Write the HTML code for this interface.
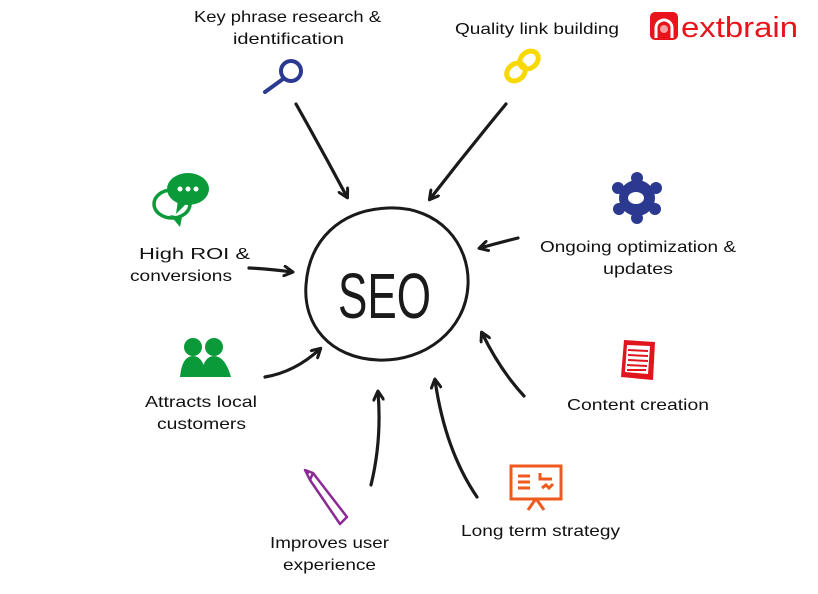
<!DOCTYPE html>
<html><head><meta charset="utf-8"><style>
html,body{margin:0;padding:0;background:#fff;}
svg{display:block;}
text{font-family:"Liberation Sans",sans-serif;font-size:16px;fill:#111;}
</style></head><body>
<svg width="818" height="594" viewBox="0 0 818 594" xmlns="http://www.w3.org/2000/svg">
<defs>
<marker id="ah" markerWidth="12" markerHeight="12" refX="9" refY="6" orient="auto" markerUnits="userSpaceOnUse">
<path d="M1,1 L10,6 L1,11" fill="none" stroke="#1a1a1a" stroke-width="3" stroke-linecap="round" stroke-linejoin="round"/>
</marker>
</defs>
<!-- Logo -->
<rect x="650" y="12" width="28" height="28" rx="5" fill="#e8131b"/>
<path d="M656,38 V28 a8,8 0 0 1 16,0 V38" fill="none" stroke="#fff" stroke-width="3"/>
<circle cx="664" cy="29" r="4" fill="#f7a0a0"/>
<text x="681" y="37" textLength="117" lengthAdjust="spacingAndGlyphs" style="font-size:29px;fill:#e8131b;">extbrain</text>

<!-- SEO circle -->
<path d="M388,208 C440,206 470,245 468,285 C466,330 425,362 378,360 C330,358 303,325 306,285 C309,240 340,210 388,208 Z" fill="none" stroke="#1a1a1a" stroke-width="3"/>
<text x="338" y="318" textLength="93" lengthAdjust="spacingAndGlyphs" style="font-size:64px;fill:#1a1a1a;">SEO</text>

<g fill="none" stroke="#1a1a1a" stroke-width="3.2" stroke-linecap="round">
<path d="M296,104 Q322,150 347,197" marker-end="url(#ah)"/>
<path d="M506,104 Q468,150 430,199" marker-end="url(#ah)"/>
<path d="M518,238 Q498,243 480,248" marker-end="url(#ah)"/>
<path d="M249,268 Q270,269 292,272" marker-end="url(#ah)"/>
<path d="M265,377 Q295,372 320,349" marker-end="url(#ah)"/>
<path d="M371,485 Q382,440 378,392" marker-end="url(#ah)"/>
<path d="M477,497 Q445,450 435,380" marker-end="url(#ah)"/>
<path d="M524,396 Q500,370 482,333" marker-end="url(#ah)"/>
</g>

<!-- Icons -->
<g stroke="#2b3990" stroke-width="4" fill="none" stroke-linecap="round">
<circle cx="291" cy="71" r="10"/>
<line x1="283" y1="79" x2="265" y2="92"/>
</g>
<g stroke="#f7d800" stroke-width="5" fill="none">
<ellipse cx="516" cy="72" rx="10" ry="8" transform="rotate(-40 516 72)"/>
<ellipse cx="529" cy="60" rx="10" ry="8" transform="rotate(-40 529 60)"/>
</g>
<g fill="#2b3990">
<circle cx="637" cy="198" r="18"/>
<circle cx="637" cy="178" r="6"/><circle cx="637" cy="218" r="6"/>
<circle cx="618" cy="188" r="6"/><circle cx="656" cy="188" r="6"/>
<circle cx="619" cy="209" r="6"/><circle cx="655" cy="209" r="6"/>
<ellipse cx="636" cy="198" rx="8" ry="6" fill="#fff"/>
</g>
<g>
<ellipse cx="172" cy="204" rx="18" ry="14" fill="none" stroke="#0a9a3a" stroke-width="3.5"/>
<path d="M170,215 l10,12 l2,-10 z" fill="#0a9a3a"/>
<ellipse cx="188" cy="189" rx="21" ry="16" fill="#0a9a3a"/>
<path d="M178,200 l-2,14 l10,-10 z" fill="#0a9a3a"/>
<circle cx="180" cy="189" r="2.5" fill="#fff"/><circle cx="188" cy="189" r="2.5" fill="#fff"/><circle cx="196" cy="189" r="2.5" fill="#fff"/>
</g>
<g fill="#0a9a3a">
<circle cx="193" cy="347" r="9"/><circle cx="214" cy="347" r="9"/>
<path d="M180,377 Q182,356 193,356 Q204,356 206,377 Z"/>
<path d="M201,377 Q203,356 214,356 Q225,356 231,377 Z"/>
</g>
<g>
<path d="M624,340 L655,342 L653,380 L621,377 Z" fill="#e0151e"/>
<path d="M627,345 L650,346 L648,374 L625,372 Z" fill="#fff"/>
<g stroke="#e0151e" stroke-width="2"><line x1="628" y1="350" x2="648" y2="351"/><line x1="628" y1="355" x2="648" y2="356"/><line x1="628" y1="360" x2="648" y2="361"/><line x1="627" y1="365" x2="647" y2="366"/><line x1="627" y1="370" x2="646" y2="370"/></g>
</g>
<g stroke="#ef5a1e" stroke-width="3" fill="none">
<rect x="511" y="466" width="50" height="33"/>
<line x1="535" y1="500" x2="528" y2="510"/><line x1="537" y1="500" x2="544" y2="510"/>
<line x1="518" y1="476" x2="530" y2="476"/><line x1="518" y1="482" x2="530" y2="482"/><line x1="518" y1="488" x2="530" y2="488"/>
<path d="M540,473 v6 h12 M542,488 l4,-3 l3,3 l4,-4"/>
</g>
<g stroke="#8b2a95" stroke-width="2.5" fill="none" stroke-linejoin="round">
<path d="M305,470 L313,473 L347,517 L340,524 L310,480 Z"/>
<line x1="310" y1="480" x2="313" y2="473"/>
</g>
<path d="M305,470 L310,472 L307,476 Z" fill="#8b2a95"/>

<!-- Labels -->
<text x="194" y="22" textLength="187" lengthAdjust="spacingAndGlyphs">Key phrase research &amp;</text>
<text x="233" y="44" textLength="111" lengthAdjust="spacingAndGlyphs">identification</text>
<text x="455" y="34" textLength="164" lengthAdjust="spacingAndGlyphs">Quality link building</text>
<text x="540" y="252" textLength="196" lengthAdjust="spacingAndGlyphs">Ongoing optimization &amp;</text>
<text x="603" y="274" textLength="70" lengthAdjust="spacingAndGlyphs">updates</text>
<text x="139" y="259" textLength="111" lengthAdjust="spacingAndGlyphs">High ROI &amp;</text>
<text x="130" y="281" textLength="102" lengthAdjust="spacingAndGlyphs">conversions</text>
<text x="145" y="407" textLength="112" lengthAdjust="spacingAndGlyphs">Attracts local</text>
<text x="157" y="429" textLength="89" lengthAdjust="spacingAndGlyphs">customers</text>
<text x="567" y="410" textLength="142" lengthAdjust="spacingAndGlyphs">Content creation</text>
<text x="461" y="536" textLength="159" lengthAdjust="spacingAndGlyphs">Long term strategy</text>
<text x="270" y="548" textLength="119" lengthAdjust="spacingAndGlyphs">Improves user</text>
<text x="283" y="570" textLength="93" lengthAdjust="spacingAndGlyphs">experience</text>
</svg>
</body></html>
